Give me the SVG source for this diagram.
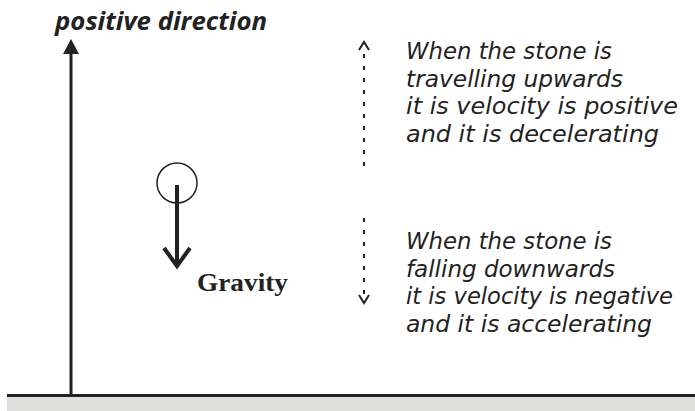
<svg xmlns="http://www.w3.org/2000/svg" width="695" height="411" viewBox="0 0 695 411">
<style>
.txt{font-family:"DejaVu Sans","Open Sans",sans-serif;font-style:italic;font-size:23px;fill:#222}
.dot{stroke:#222;stroke-width:2;stroke-dasharray:4 8;fill:none}
.chev{stroke:#222;stroke-width:2;fill:none}
</style>
<rect x="0" y="0" width="695" height="411" fill="#fff"/>
<g id="ground">
<rect x="7" y="396" width="688" height="15" fill="#dededc"/>
<line x1="7" y1="395.5" x2="695" y2="395.5" stroke="#222" stroke-width="3"/>
</g>
<g id="connectors">
<line x1="71" y1="395" x2="71" y2="50" stroke="#222" stroke-width="3"/>
<polygon points="71,39 63,54 79,54" fill="#222"/>
<line class="dot" x1="364" y1="54" x2="364" y2="166"/>
<polyline class="chev" points="359,50 364,42 369,50"/>
<line class="dot" x1="364" y1="218" x2="364" y2="295"/>
<polyline class="chev" points="359,295 364,303 369,295"/>
</g>
<g id="label-positive">
<text x="55" y="30" font-family="Open Sans, DejaVu Sans, sans-serif" font-weight="bold" font-style="italic" font-size="25" fill="#222" textLength="212" lengthAdjust="spacingAndGlyphs">positive direction</text>
</g>
<g id="stone">
<circle cx="177" cy="183" r="20" fill="none" stroke="#222" stroke-width="1.5"/>
<line x1="177" y1="185" x2="177" y2="266" stroke="#222" stroke-width="4"/>
<polyline points="164,248 177,266 190,248" fill="none" stroke="#222" stroke-width="4"/>
<text x="197" y="291" font-family="Liberation Serif, serif" font-weight="bold" font-size="26" fill="#222" textLength="91" lengthAdjust="spacingAndGlyphs">Gravity</text>
</g>
<g id="upward-text">
<text class="txt" x="406" y="59" textLength="206" lengthAdjust="spacingAndGlyphs">When the stone is</text>
<text class="txt" x="406" y="86.5" textLength="217" lengthAdjust="spacingAndGlyphs">travelling upwards</text>
<text class="txt" x="406" y="114" textLength="272" lengthAdjust="spacingAndGlyphs">it is velocity is positive</text>
<text class="txt" x="406" y="141.5" textLength="253" lengthAdjust="spacingAndGlyphs">and it is decelerating</text>
</g>
<g id="downward-text">
<text class="txt" x="406" y="249" textLength="206" lengthAdjust="spacingAndGlyphs">When the stone is</text>
<text class="txt" x="406" y="276.5" textLength="209" lengthAdjust="spacingAndGlyphs">falling downwards</text>
<text class="txt" x="406" y="304" textLength="267" lengthAdjust="spacingAndGlyphs">it is velocity is negative</text>
<text class="txt" x="406" y="331.5" textLength="246" lengthAdjust="spacingAndGlyphs">and it is accelerating</text>
</g>
</svg>
